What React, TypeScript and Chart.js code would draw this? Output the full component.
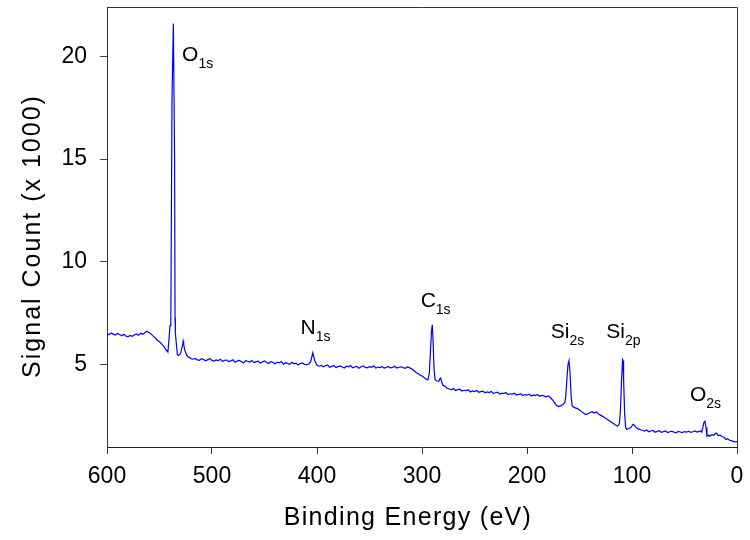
import React, { useEffect, useRef } from "react";
import { Chart, registerables } from "chart.js";

Chart.register(...registerables);

type Pt = [number, number];

// [binding energy (eV), signal count (x 1000)]
const highEnergyPlateau: Pt[] = [
  [600, 6.5], [598, 6.46], [596, 6.55], [594, 6.49], [592, 6.44], [590, 6.52], [588, 6.47], [586, 6.41],
  [584, 6.48], [582, 6.4], [580, 6.36], [578, 6.43], [576, 6.38], [574, 6.45], [572, 6.5], [570, 6.44],
  [568, 6.53], [566, 6.48], [564, 6.56], [562, 6.63], [560, 6.57], [558, 6.5], [556, 6.39], [554, 6.3],
  [552, 6.18], [550, 6.12], [548, 6.02], [546, 5.9], [544, 5.74], [542, 5.62],
];

const o1sRegion: Pt[] = [
  [541, 6.2], [540, 6.9], [539.2, 7.3], [538.1, 17.9], [536.8, 21.6], [535.6, 14.9], [535.2, 7.3], [534.9, 6.55],
  [533, 5.5], [532, 5.45], [530.5, 5.5], [529.5, 5.65], [528, 5.95], [527.5, 6.15], [527, 6.02], [526, 5.72],
  [524, 5.46], [522, 5.36], [520, 5.3],
];

const midBaselineA: Pt[] = [
  [518, 5.27], [516, 5.31], [514, 5.24], [512, 5.22], [510, 5.3], [508, 5.26], [506, 5.19], [504, 5.25],
  [502, 5.29], [500, 5.21], [498, 5.18], [496, 5.24], [494, 5.2], [492, 5.27], [490, 5.16], [488, 5.22],
  [486, 5.23], [484, 5.15], [482, 5.19], [480, 5.24], [478, 5.12], [476, 5.18], [474, 5.21], [472, 5.16],
  [470, 5.09], [468, 5.2], [466, 5.17], [464, 5.13], [462, 5.21], [460, 5.1], [458, 5.15], [456, 5.18],
  [454, 5.07], [452, 5.14], [450, 5.19], [448, 5.11], [446, 5.06], [444, 5.15], [442, 5.12], [440, 5.04],
  [438, 5.13], [436, 5.09], [434, 5.16], [432, 5.03], [430, 5.1], [428, 5.07], [426, 5.01], [424, 5.12],
  [422, 5.05], [420, 5.08], [418, 4.99], [416, 5.06], [414, 5.09], [412, 5.02], [410, 5.0],
];

const n1sRegion: Pt[] = [
  [408, 5.03], [406, 5.15], [404, 5.58], [402, 5.18], [400, 4.97],
];

const midBaselineB: Pt[] = [
  [398, 4.93], [396, 4.97], [394, 4.9], [392, 4.95], [390, 4.99], [388, 4.88], [386, 4.92], [384, 4.96],
  [382, 4.86], [380, 4.91], [378, 4.94], [376, 4.89], [374, 4.84], [372, 4.93], [370, 4.9], [368, 4.96],
  [366, 4.85], [364, 4.89], [362, 4.92], [360, 4.83], [358, 4.9], [356, 4.94], [354, 4.87], [352, 4.85],
  [350, 4.91], [348, 4.88], [346, 4.95], [344, 4.84], [342, 4.89], [340, 4.86], [338, 4.92], [336, 4.83],
  [334, 4.88], [332, 4.91], [330, 4.85], [328, 4.87], [326, 4.93], [324, 4.84], [322, 4.88], [320, 4.9],
  [318, 4.86], [316, 4.83], [314, 4.89], [312, 4.86],
];

const c1sRegion: Pt[] = [
  [310, 4.8], [308, 4.73], [306, 4.64], [304, 4.58], [302, 4.5], [300, 4.45], [298, 4.38], [296, 4.3],
  [294.3, 4.27], [293, 4.6], [292, 5.6], [291, 6.6], [290.2, 6.94], [289.5, 6.2], [288.5, 4.8], [287.6, 4.27],
  [286, 4.22], [284, 4.2], [283, 4.32], [282.3, 4.36], [281, 4.12], [280, 4.0], [278, 3.95], [276, 3.86],
];

const lowBaseline: Pt[] = [
  [274, 3.82], [272, 3.78], [270, 3.84], [268, 3.75], [266, 3.79], [264, 3.81], [262, 3.72], [260, 3.76],
  [258, 3.74], [256, 3.79], [254, 3.68], [252, 3.73], [250, 3.7], [248, 3.75], [246, 3.66], [244, 3.69],
  [242, 3.72], [240, 3.64], [238, 3.68], [236, 3.65], [234, 3.7], [232, 3.61], [230, 3.64], [228, 3.67],
  [226, 3.58], [224, 3.62], [222, 3.6], [220, 3.65], [218, 3.55], [216, 3.59], [214, 3.57], [212, 3.62],
  [210, 3.53], [208, 3.56], [206, 3.59], [204, 3.5], [202, 3.55], [200, 3.52], [198, 3.57], [196, 3.48],
  [194, 3.53], [192, 3.5], [190, 3.55], [188, 3.47], [186, 3.51], [184, 3.49], [182, 3.44], [180, 3.48],
];

const si2sRegion: Pt[] = [
  [178, 3.42], [176, 3.31], [174, 3.17], [172, 3.03], [170, 2.97], [168, 3.0], [166, 3.06], [164, 3.16],
  [163, 3.5], [162, 4.3], [161, 5.0], [160, 5.2], [159, 4.6], [158, 3.5], [157, 3.0], [156, 2.95],
  [154, 2.9], [152, 2.87], [150, 2.8], [148, 2.72], [146, 2.64], [144, 2.58], [142, 2.62], [140, 2.68],
  [138, 2.72], [136, 2.65], [134, 2.7], [132, 2.61], [130, 2.55], [128, 2.49], [126, 2.42], [124, 2.36],
  [122, 2.29], [120, 2.22], [118, 2.15], [116, 2.08], [114, 2.02], [113, 2.05],
];

const si2pRegion: Pt[] = [
  [112, 2.15], [111, 2.8], [110, 4.2], [109, 5.25], [108.5, 5.2], [108, 4.3], [107, 2.6], [106, 1.95],
  [105, 1.85], [103, 1.9], [101, 1.96], [99, 2.1], [98, 2.07], [96, 1.93], [94, 1.88], [92, 1.84],
];

const lowestBaseline: Pt[] = [
  [90, 1.8], [88, 1.77], [86, 1.83], [84, 1.74], [82, 1.78], [80, 1.81], [78, 1.72], [76, 1.76],
  [74, 1.79], [72, 1.71], [70, 1.75], [68, 1.78], [66, 1.7], [64, 1.74], [62, 1.77], [60, 1.72],
  [58, 1.69], [56, 1.76], [54, 1.73], [52, 1.7], [50, 1.75], [48, 1.72], [46, 1.77], [44, 1.71],
  [42, 1.74], [40, 1.78], [38, 1.73],
];

const o2sRegion: Pt[] = [
  [36, 1.76], [34.5, 1.78], [33.6, 1.72], [32.5, 1.95], [31.5, 2.2], [30.5, 2.25], [29.5, 1.95], [28.6, 1.52],
  [27, 1.58], [26, 1.52], [24, 1.6], [22, 1.57], [20, 1.68], [19, 1.65], [18, 1.56], [16, 1.58],
  [14, 1.5], [12, 1.46], [10.5, 1.36], [9, 1.4], [7, 1.33], [5, 1.3], [3, 1.27], [1.5, 1.25], [0, 1.26],
];

const spectrumSegments: Pt[][] = [
  highEnergyPlateau, o1sRegion, midBaselineA, n1sRegion, midBaselineB, c1sRegion,
  lowBaseline, si2sRegion, si2pRegion, lowestBaseline, o2sRegion,
];

const xTickValues = [0, 100, 200, 300, 400, 500, 600];
const yTickValues = [5, 10, 15, 20];
const xMin = 0;
const xMax = 600;
const yMin = 1;
const yMax = 22.4;

const xTitle = "Binding Energy (eV)";
const yTitle = "Signal Count (x 1000)";

// peak annotations: element, subscript, anchor (energy, count) of text's left baseline
const peakNames = ["O", "N", "C", "Si", "Si", "O"];
const peakSubs = ["1s", "1s", "1s", "2s", "2p", "2s"];
const peakLabelEnergy = [528.5, 415.6, 301.3, 177.4, 124.5, 44.8];
const peakLabelCount = [19.75, 6.5, 7.8, 6.3, 6.3, 3.22];

const FONT = "'Liberation Sans', Arial, Helvetica, sans-serif";

const decorPlugin = {
  id: "decor",
  beforeDatasetsDraw(chart: any) {
    const { ctx, chartArea: a } = chart;
    ctx.save();
    ctx.strokeStyle = "#333";
    ctx.lineWidth = 1;
    ctx.beginPath();
    ctx.moveTo(a.left, a.top + 0.5);
    ctx.lineTo(a.right + 0.5, a.top + 0.5);
    ctx.lineTo(a.right + 0.5, a.bottom);
    ctx.stroke();
    ctx.restore();
  },
  afterDraw(chart: any) {
    const { ctx, chartArea: a, scales } = chart;
    const xs = scales.x;
    const ys = scales.y;
    ctx.save();
    ctx.fillStyle = "#000";
    ctx.textBaseline = "alphabetic";
    ctx.textAlign = "left";
    for (let i = 0; i < peakNames.length; i++) {
      const px = xs.getPixelForValue(peakLabelEnergy[i]);
      const py = ys.getPixelForValue(peakLabelCount[i]);
      ctx.font = `21px ${FONT}`;
      ctx.fillText(peakNames[i], px, py);
      const w = ctx.measureText(peakNames[i]).width;
      ctx.font = `14px ${FONT}`;
      ctx.fillText(peakSubs[i], px + w, py + 7);
    }
    // axis titles
    ctx.font = `25px ${FONT}`;
    ctx.textAlign = "center";
    (ctx as any).letterSpacing = "1.3px";
    ctx.fillText(xTitle, (a.left + a.right) / 2 - 14, a.bottom + 78);
    (ctx as any).letterSpacing = "2px";
    ctx.translate(a.left - 67, (a.top + a.bottom) / 2 + 9);
    ctx.rotate(-Math.PI / 2);
    ctx.fillText(yTitle, 0, 0);
    (ctx as any).letterSpacing = "0px";
    ctx.restore();
  },
};

export default function App() {
  const canvasRef = useRef<HTMLCanvasElement | null>(null);

  useEffect(() => {
    if (!canvasRef.current) return;
    const points = spectrumSegments.flat().map(([x, y]) => ({ x, y }));
    const chart = new Chart(canvasRef.current, {
      type: "line",
      data: {
        datasets: [
          {
            data: points,
            borderColor: "#0000ff",
            borderWidth: 1.2,
            pointRadius: 0,
            tension: 0,
            fill: false,
          },
        ],
      },
      options: {
        animation: false,
        responsive: false,
        events: [],
        layout: { padding: { top: 7, right: 13, left: 0, bottom: 0 } },
        plugins: {
          legend: { display: false },
          tooltip: { enabled: false },
        },
        scales: {
          x: {
            type: "linear",
            reverse: true,
            min: xMin,
            max: xMax,
            afterFit: (s: any) => {
              s.height = 93;
              s.paddingLeft = 0;
              s.paddingRight = 0;
            },
            afterBuildTicks: (s: any) => {
              s.ticks = xTickValues.map((v) => ({ value: v }));
            },
            grid: {
              drawOnChartArea: false,
              drawTicks: true,
              tickLength: 7,
              color: "#333",
            },
            border: { display: true, color: "#222", width: 1 },
            ticks: {
              color: "#000",
              padding: 9,
              maxRotation: 0,
              font: { family: FONT, size: 23 },
            },
          },
          y: {
            type: "linear",
            min: yMin,
            max: yMax,
            afterFit: (s: any) => {
              s.width = 107;
              s.paddingTop = 0;
              s.paddingBottom = 0;
            },
            afterBuildTicks: (s: any) => {
              s.ticks = yTickValues.map((v) => ({ value: v }));
            },
            grid: {
              drawOnChartArea: false,
              drawTicks: true,
              tickLength: 7,
              color: "#444",
            },
            border: { display: true, color: "#333", width: 1 },
            ticks: {
              color: "#000",
              padding: 13,
              font: { family: FONT, size: 23 },
            },
          },
        },
      },
      plugins: [decorPlugin],
    });
    return () => chart.destroy();
  }, []);

  return (
    <div style={{ position: "absolute", left: 0, top: 0, width: 750, height: 540, background: "#fff" }}>
      <canvas ref={canvasRef} width={750} height={540} style={{ display: "block", width: 750, height: 540 }} />
    </div>
  );
}
